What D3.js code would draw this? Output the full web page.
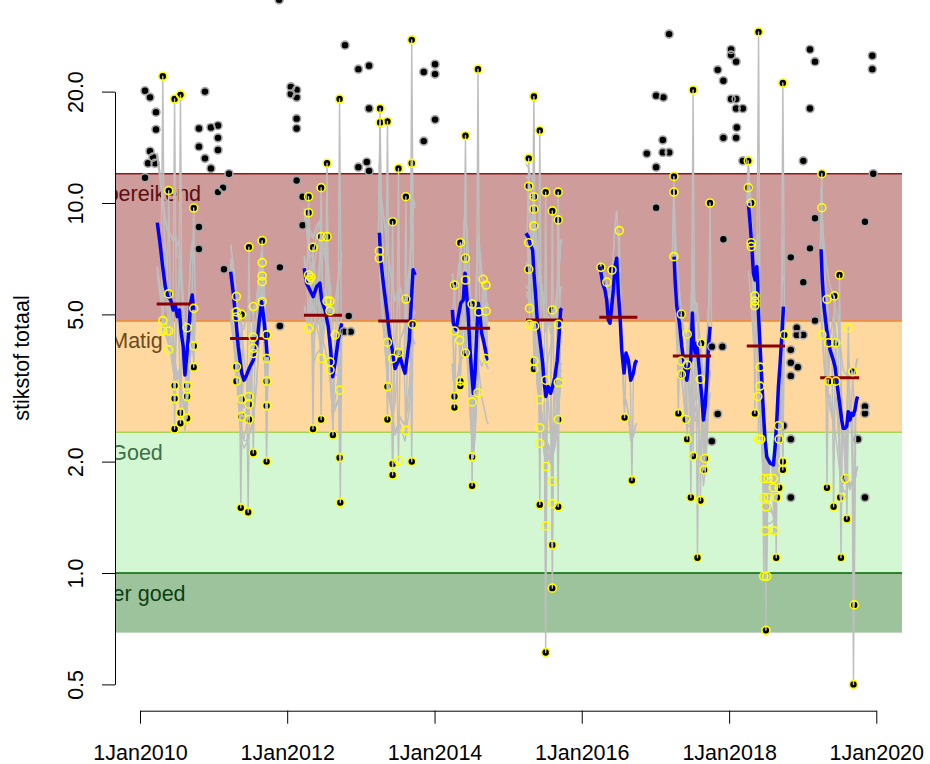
<!DOCTYPE html>
<html>
<head>
<meta charset="utf-8">
<script src="https://cdn.jsdelivr.net/npm/d3@7"></script>
<style>
  body { margin: 0; background: #fff; }
  svg { display: block; font-family: "Liberation Sans", Arial, Helvetica, sans-serif; }
</style>
</head>
<body>
<svg id="chart" width="930" height="764"></svg>
<script>
// ---- Quality classes (total nitrogen, mg/l) ----
const classNames = ["Zeer goed", "Goed", "Matig", "Ontoereikend"];
const classLower = [0.69, 1.0, 2.4, 4.8];
const classUpper = [1.0, 2.4, 4.8, 12];
const classFill  = ["#9dc39d", "#d3f7d3", "#ffd89f", "#cf9c9c"];
const classEdge  = ["#006400", "#a8d45a", "#f0882a", "#8b1a1a"];
const classText  = ["#0c3f12", "#3f6f47", "#6b4a1b", "#5b0f0f"];
const classLabelAt = 2009.953;

// ---- Axis ticks ----
const yTicks = [0.5, 1, 2, 5, 10, 20];
const xTickYears = [2010, 2012, 2014, 2016, 2018, 2020];

// ---- Summer means per year: start, end, mean ----
const meanStart = [2010.227, 2011.224, 2012.227, 2013.235, 2014.301, 2015.243, 2016.238, 2017.235, 2018.240, 2019.237];
const meanEnd   = [2010.724, 2011.700, 2012.743, 2013.733, 2014.754, 2015.744, 2016.754, 2017.755, 2018.760, 2019.767];
const meanValue = [5.33, 4.30, 4.97, 4.80, 4.59, 4.83, 4.91, 3.86, 4.11, 3.37];

// ---- Running median per summer [decimal year, value] ----
const blue2010 = [[2010.235,8.85],[2010.272,7.78],[2010.308,6.73],[2010.344,5.94],[2010.380,5.58],[2010.417,5.47],[2010.452,5.14],[2010.479,5.30],[2010.507,4.93],[2010.534,5.14],[2010.561,4.44],[2010.588,4.09],[2010.611,3.43],[2010.634,3.84],[2010.661,4.44],[2010.688,5.36],[2010.710,5.64],[2010.729,5.14]];
const blue2011 = [[2011.232,6.52],[2011.268,5.70],[2011.304,4.83],[2011.335,4.09],[2011.382,3.47],[2011.413,3.32],[2011.450,3.43],[2011.494,3.61],[2011.539,3.76],[2011.585,4.09],[2011.621,4.83],[2011.653,5.41],[2011.684,4.83],[2011.712,4.26],[2011.729,3.84]];
const blue2012 = [[2012.231,6.66],[2012.263,6.07],[2012.308,5.82],[2012.353,5.58],[2012.399,5.94],[2012.444,6.07],[2012.467,5.47],[2012.512,5.14],[2012.557,4.63],[2012.589,4.01],[2012.617,3.39],[2012.648,3.69],[2012.692,4.26],[2012.739,4.73]];
const blue2013 = [[2013.250,8.31],[2013.269,7.01],[2013.304,6.07],[2013.350,5.14],[2013.386,4.44],[2013.426,4.01],[2013.463,3.57],[2013.494,3.69],[2013.531,3.84],[2013.568,3.61],[2013.599,3.47],[2013.622,3.76],[2013.657,4.26],[2013.690,5.70],[2013.708,6.60],[2013.735,6.39]];
const blue2014 = [[2014.242,5.14],[2014.255,4.73],[2014.292,4.54],[2014.323,4.93],[2014.356,5.36],[2014.391,5.47],[2014.414,6.46],[2014.436,5.70],[2014.459,4.93],[2014.482,4.01],[2014.505,3.47],[2014.527,3.06],[2014.550,3.47],[2014.573,4.44],[2014.595,5.36],[2014.618,4.93],[2014.641,4.44],[2014.672,4.18],[2014.709,3.84],[2014.730,3.76]];
const blue2015 = [[2015.242,8.28],[2015.273,8.11],[2015.296,7.78],[2015.333,7.46],[2015.350,6.46],[2015.378,5.47],[2015.395,4.83],[2015.432,4.26],[2015.469,3.69],[2015.486,3.32],[2015.513,3.00],[2015.545,3.19],[2015.577,3.06],[2015.604,3.19],[2015.636,3.39],[2015.667,3.76],[2015.694,4.44],[2015.713,5.14],[2015.731,5.19]];
const blue2016 = [[2016.247,6.73],[2016.284,6.07],[2016.315,5.82],[2016.338,5.47],[2016.360,4.83],[2016.383,4.73],[2016.406,5.25],[2016.428,5.82],[2016.451,6.73],[2016.474,7.09],[2016.496,5.70],[2016.519,4.93],[2016.542,4.01],[2016.573,3.47],[2016.600,3.93],[2016.632,3.76],[2016.664,3.32],[2016.700,3.47],[2016.723,3.69],[2016.746,3.76]];
const blue2017 = [[2017.253,7.16],[2017.266,6.19],[2017.289,5.25],[2017.325,4.73],[2017.357,4.09],[2017.388,3.69],[2017.425,3.32],[2017.447,3.54],[2017.479,3.76],[2017.501,5.04],[2017.515,4.26],[2017.538,3.93],[2017.561,4.18],[2017.583,3.76],[2017.606,3.32],[2017.629,3.00],[2017.651,2.59],[2017.674,2.82],[2017.697,3.32],[2017.719,4.09],[2017.742,4.63]];
const blue2018 = [[2018.262,9.98],[2018.285,8.81],[2018.308,7.62],[2018.330,6.46],[2018.353,6.19],[2018.376,6.73],[2018.390,5.94],[2018.398,5.04],[2018.421,4.09],[2018.444,3.32],[2018.466,2.70],[2018.489,2.29],[2018.512,2.06],[2018.557,1.98],[2018.602,1.96],[2018.625,2.19],[2018.648,2.59],[2018.670,3.19],[2018.693,3.69],[2018.716,4.35],[2018.738,5.25]];
const blue2019 = [[2019.249,7.50],[2019.266,6.19],[2019.289,5.25],[2019.326,4.54],[2019.371,4.01],[2019.416,3.76],[2019.439,3.61],[2019.462,3.32],[2019.483,3.06],[2019.507,2.82],[2019.530,2.59],[2019.551,2.46],[2019.574,2.46],[2019.598,2.49],[2019.619,2.73],[2019.642,2.59],[2019.665,2.70],[2019.687,2.67],[2019.710,2.76],[2019.733,2.94],[2019.746,3.00]];

// ---- Summer measurements [decimal year, value, filled] ----
const obs2010 = [[2010.31,22.0,1],[2010.47,19.1,1],[2010.55,19.6,1],[2010.39,10.8,1],[2010.73,9.69,1],[2010.39,5.68,1],[2010.31,4.81,0],[2010.31,4.51,0],[2010.39,4.51,0],[2010.39,4.01,0],[2010.73,5.19,0],[2010.64,4.60,0],[2010.73,4.11,1],[2010.73,3.60,1],[2010.47,3.21,1],[2010.64,3.21,1],[2010.47,2.96,1],[2010.64,3.00,1],[2010.55,2.71,1],[2010.64,2.62,1],[2010.55,2.54,1],[2010.47,2.45,1]];
const obs2011 = [[2011.31,5.59,0],[2011.31,5.08,0],[2011.31,4.92,0],[2011.38,5.00,1],[2011.54,5.25,0],[2011.66,7.91,1],[2011.66,6.90,0],[2011.66,6.35,0],[2011.66,6.13,0],[2011.66,5.41,0],[2011.48,7.60,1],[2011.54,4.34,0],[2011.54,4.05,0],[2011.54,3.92,0],[2011.72,4.40,1],[2011.72,3.80,1],[2011.72,3.30,1],[2011.72,2.83,1],[2011.31,3.61,1],[2011.31,3.30,1],[2011.38,2.95,1],[2011.48,3.00,1],[2011.48,2.86,1],[2011.38,2.65,1],[2011.48,2.60,1],[2011.54,2.11,1],[2011.72,2.00,1],[2011.37,1.50,1],[2011.47,1.46,1]];
const obs2012 = [[2012.29,10.4,1],[2012.29,9.41,1],[2012.46,11.0,1],[2012.54,12.8,1],[2012.35,7.59,1],[2012.46,8.11,1],[2012.54,8.11,1],[2012.71,19.1,1],[2012.29,6.39,0],[2012.30,6.19,0],[2012.32,6.30,0],[2012.29,4.58,0],[2012.54,5.43,0],[2012.58,5.43,0],[2012.58,5.11,0],[2012.65,4.40,0],[2012.46,3.80,0],[2012.58,3.72,0],[2012.58,3.54,0],[2012.71,3.12,0],[2012.71,2.05,1],[2012.46,2.60,1],[2012.35,2.45,1],[2012.62,2.36,1],[2012.72,1.55,1]];
const obs2013 = [[2013.26,18.0,1],[2013.26,16.5,1],[2013.36,16.6,1],[2013.69,27.6,1],[2013.51,12.4,1],[2013.69,12.8,1],[2013.61,10.4,1],[2013.43,8.90,1],[2013.25,7.42,0],[2013.25,7.09,0],[2013.61,5.50,1],[2013.70,4.70,1],[2013.36,4.20,0],[2013.43,3.80,0],[2013.51,3.94,1],[2013.36,3.19,1],[2013.36,2.60,1],[2013.61,2.43,0],[2013.43,1.97,1],[2013.51,2.01,0],[2013.43,1.84,1],[2013.69,2.00,1]];
const obs2014 = [[2014.42,15.2,1],[2014.59,23.0,1],[2014.35,7.81,1],[2014.42,7.09,1],[2014.27,6.00,1],[2014.42,6.19,0],[2014.66,6.22,0],[2014.70,6.00,0],[2014.51,5.33,1],[2014.60,5.08,0],[2014.70,5.10,0],[2014.27,4.51,0],[2014.34,4.26,0],[2014.42,3.93,1],[2014.69,3.80,0],[2014.35,3.30,1],[2014.35,3.20,1],[2014.27,3.00,1],[2014.27,2.80,1],[2014.51,2.90,1],[2014.59,3.07,0],[2014.51,2.06,1],[2014.51,1.72,1]];
const obs2015 = [[2015.35,19.4,1],[2015.43,15.7,1],[2015.28,13.2,1],[2015.28,11.1,1],[2015.35,10.4,1],[2015.51,10.7,1],[2015.68,10.7,1],[2015.35,9.62,1],[2015.60,9.52,1],[2015.68,9.00,1],[2015.35,8.67,1],[2015.28,7.81,0],[2015.28,6.62,1],[2015.29,5.19,0],[2015.60,5.14,1],[2015.29,4.70,0],[2015.36,4.65,0],[2015.68,4.70,0],[2015.35,3.74,1],[2015.35,3.56,1],[2015.51,3.32,0],[2015.68,3.27,1],[2015.43,2.94,0],[2015.68,2.60,1],[2015.43,2.47,0],[2015.43,2.24,0],[2015.51,1.94,0],[2015.60,1.77,0],[2015.43,1.53,1],[2015.60,1.54,0],[2015.68,1.51,1],[2015.51,1.34,0],[2015.60,1.19,1],[2015.60,0.91,1],[2015.51,0.61,1]];
const obs2016 = [[2016.51,8.42,0],[2016.26,6.70,1],[2016.41,6.59,1],[2016.34,6.11,0],[2016.58,2.63,1],[2016.68,1.78,1]];
const obs2017 = [[2017.25,11.8,1],[2017.25,10.7,1],[2017.51,20.2,1],[2017.74,10.0,1],[2017.25,7.16,0],[2017.35,5.01,1],[2017.43,4.42,0],[2017.62,4.18,1],[2017.35,3.74,0],[2017.43,3.65,1],[2017.35,3.44,1],[2017.61,3.34,0],[2017.31,2.70,1],[2017.41,2.60,1],[2017.43,2.30,1],[2017.51,2.07,1],[2017.67,2.04,1],[2017.66,1.90,1],[2017.48,1.60,1],[2017.61,1.57,1],[2017.57,1.10,1]];
const obs2018 = [[2018.40,29.0,1],[2018.73,21.1,1],[2018.26,13.0,1],[2018.26,11.0,1],[2018.30,10.0,1],[2018.30,7.81,1],[2018.30,7.62,0],[2018.35,5.61,0],[2018.35,5.43,0],[2018.35,5.28,0],[2018.75,4.40,1],[2018.42,3.60,0],[2018.42,3.20,0],[2018.39,3.00,0],[2018.35,2.70,1],[2018.67,2.50,1],[2018.40,2.30,0],[2018.43,2.30,0],[2018.68,2.30,1],[2018.73,2.00,1],[2018.73,1.90,1],[2018.47,1.80,0],[2018.53,1.80,0],[2018.60,1.80,0],[2018.60,1.70,0],[2018.68,1.70,1],[2018.47,1.60,0],[2018.53,1.60,0],[2018.65,1.60,1],[2018.50,1.51,1],[2018.49,1.30,0],[2018.61,1.30,0],[2018.64,1.10,1],[2018.47,0.98,0],[2018.51,0.98,0],[2018.50,0.70,1]];
const obs2019 = [[2019.26,12.0,1],[2019.26,9.71,0],[2019.50,6.39,1],[2019.33,5.49,0],[2019.43,5.61,1],[2019.62,4.60,0],[2019.26,4.40,0],[2019.35,4.19,1],[2019.45,4.19,1],[2019.68,3.50,1],[2019.35,3.30,1],[2019.45,3.30,1],[2019.33,1.70,1],[2019.51,1.60,1],[2019.58,1.80,1],[2019.42,1.51,1],[2019.60,1.40,1],[2019.52,1.10,1],[2019.70,0.82,1],[2019.69,0.50,1]];

// ---- Measurements outside the summer window [decimal year, value] ----
const winterObs = [
  [2010.068,20.1],[2010.136,19.3],[2010.217,17.6],[2010.217,15.8],[2010.136,13.8],[2010.109,12.8],[2010.204,12.8],[2010.177,13.3],[2010.068,11.7],
  [2010.883,20.0],[2010.801,15.9],[2010.964,16.0],[2011.060,16.2],[2011.060,15.0],[2010.801,14.2],[2011.060,13.9],[2010.883,13.2],[2010.964,12.4],[2011.209,12.0],[2011.060,10.7],[2011.128,11.0],[2010.801,8.61],[2010.801,7.51],
  [2011.141,6.62],[2011.901,6.70],[2011.901,4.65],[2011.891,35.4],
  [2012.050,20.6],[2012.128,20.2],[2012.050,19.7],[2012.128,19.3],[2012.128,16.9],[2012.128,15.9],[2012.128,11.5],[2012.209,10.4],[2012.209,8.71],
  [2012.784,26.7],[2012.965,23.0],[2013.110,23.5],[2013.110,18.0],[2012.965,12.5],[2013.079,12.9],[2013.110,12.2],[2012.834,4.95],[2012.770,4.49],[2012.861,4.49],
  [2013.853,22.6],[2014.007,23.7],[2014.007,22.3],[2014.007,16.8],[2013.853,14.7],
  [2017.185,28.6],[2017.008,19.5],[2017.107,19.3],[2017.099,14.8],[2016.882,13.6],[2017.099,13.7],[2017.185,13.7],[2017.008,12.5],[2017.008,9.71],
  [2017.922,7.98],[2017.765,4.09],[2017.908,4.09],[2017.845,2.69],[2017.765,2.27],
  [2017.845,22.9],[2018.027,26.0],[2018.027,25.1],[2018.095,24.1],[2017.922,21.4],[2018.027,19.1],[2018.095,19.1],[2018.095,18.0],[2018.186,18.0],[2018.104,16.0],[2017.922,15.0],[2018.095,15.0],[2018.186,13.0],
  [2019.099,26.0],[2019.167,24.1],[2019.099,18.0],[2019.008,13.0],[2019.167,9.09],[2019.099,7.54],[2018.838,7.13],[2019.008,6.11],[2019.167,4.81],[2018.919,4.60],[2018.919,4.40],[2019.008,4.40],[2018.838,4.01],[2018.838,3.70],[2018.933,3.60],[2018.838,3.41],[2018.838,2.30],[2018.838,1.60],[2018.738,2.50],
  [2019.946,25.0],[2019.946,23.0],[2019.959,12.0],[2019.846,8.90],[2019.846,2.82],[2019.846,2.70],[2019.750,2.30],[2019.846,1.60]
];

const medians = [blue2010, blue2011, blue2012, blue2013, blue2014, blue2015, blue2016, blue2017, blue2018, blue2019];
const summers = [obs2010, obs2011, obs2012, obs2013, obs2014, obs2015, obs2016, obs2017, obs2018, obs2019];

// ---- helpers ----
function toDate(t) {
  const yr = Math.floor(t);
  const a = new Date(yr, 0, 1), b = new Date(yr + 1, 0, 1);
  return new Date(+a + (t - yr) * (b - a));
}
// log-linear interpolation along a [t, v] series, held flat beyond its ends
function interpLog(series, t) {
  if (t <= series[0][0]) return series[0][1];
  const last = series[series.length - 1];
  if (t >= last[0]) return last[1];
  const i = d3.bisector(d => d[0]).right(series, t);
  const a = series[i - 1], b = series[i];
  const f = (t - a[0]) / (b[0] - a[0]);
  return Math.exp(Math.log(a[1]) + f * (Math.log(b[1]) - Math.log(a[1])));
}
function interpLin(pairs, t) {
  if (t <= pairs[0][0]) return pairs[0][1];
  const last = pairs[pairs.length - 1];
  if (t >= last[0]) return last[1];
  const i = d3.bisector(d => d[0]).right(pairs, t);
  const a = pairs[i - 1], b = pairs[i];
  return a[1] + (t - a[0]) / (b[0] - a[0]) * (b[1] - a[1]);
}

const svg = d3.select("#chart");
const plotLeft = 115, plotRight = 902;

const x = d3.scaleTime()
  .domain([new Date(2010, 0, 1), new Date(2020, 0, 1)])
  .range([140, 876.3]);
const y = d3.scaleLog()
  .domain([0.5, 20])
  .range([684.4, 91.6]);

svg.append("defs").append("clipPath").attr("id", "plotClip")
  .append("rect").attr("x", plotLeft).attr("y", 0)
  .attr("width", plotRight - plotLeft).attr("height", 700);

const plot = svg.append("g").attr("clip-path", "url(#plotClip)");

// class bands
classNames.forEach((name, i) => {
  plot.append("rect")
    .attr("x", plotLeft).attr("width", plotRight - plotLeft)
    .attr("y", y(classUpper[i]))
    .attr("height", y(classLower[i]) - y(classUpper[i]))
    .attr("fill", classFill[i]);
});
classNames.forEach((name, i) => {
  plot.append("line")
    .attr("x1", plotLeft).attr("x2", plotRight)
    .attr("y1", y(classUpper[i])).attr("y2", y(classUpper[i]))
    .attr("stroke", classEdge[i]).attr("stroke-width", 1.5);
  plot.append("text")
    .attr("x", x(toDate(classLabelAt)))
    .attr("y", y(classUpper[i]) + 27.5)
    .attr("text-anchor", "middle")
    .attr("font-size", "21.5px")
    .attr("fill", classText[i])
    .text(name);
});

// black centres of all points (drawn beneath the lines)
const allSummer = summers.flat();
plot.append("g").selectAll("circle")
  .data(allSummer.filter(d => d[2] === 1).concat(winterObs))
  .join("circle")
  .attr("cx", d => x(toDate(d[0])))
  .attr("cy", d => y(d[1]))
  .attr("r", 4)
  .attr("fill", "#000");

// grey station traces
function samplingRounds(obs) {
  const s = obs.slice().sort((a, b) => a[0] - b[0]);
  const rounds = [];
  s.forEach(d => {
    const last = rounds[rounds.length - 1];
    if (last && d[0] - last.t <= 0.015) { last.pts.push(d); last.t = d[0]; }
    else rounds.push({ t: d[0], pts: [d] });
  });
  return rounds;
}
const traceLine = d3.line().x(d => x(toDate(d[0]))).y(d => y(d[1]));
const grey = plot.append("g").attr("fill", "none").attr("stroke", "#bebebe")
  .attr("stroke-width", 1.4).attr("stroke-linejoin", "round");
const spread = Math.log(1.55);
summers.forEach((obs, s) => {
  const med = medians[s];
  const rounds = samplingRounds(obs);
  const n = d3.max(rounds, r => r.pts.length);
  // each ranked station follows the median, offset by its (softened) deviation at the sampling rounds
  for (let k = 0; k < n; k++) {
    ["hi", "lo"].forEach(dir => {
      const dev = rounds.filter(r => r.pts.length > k).map(r => {
        const sorted = r.pts.slice().sort((a, b) => dir === "hi" ? b[1] - a[1] : a[1] - b[1]);
        const p = sorted[k];
        const l = Math.log(p[1] / interpLog(med, p[0]));
        return [p[0], spread * Math.tanh(l / spread)];
      });
      const tr = med.map(m => [m[0], m[1] * Math.exp(interpLin(dev, m[0]))]);
      grey.append("path").attr("d", traceLine(tr));
    });
  }
  // excursions from the median out to every measurement
  const w = 0.022;
  obs.forEach(p => {
    const path = [[p[0] - w, interpLog(med, p[0] - w)], [p[0], p[1]], [p[0] + w, interpLog(med, p[0] + w)]];
    grey.append("path").attr("d", traceLine(path));
  });
});

// running medians
const medLine = d3.line().x(d => x(toDate(d[0]))).y(d => y(d[1]));
plot.append("g").selectAll("path").data(medians).join("path")
  .attr("d", medLine)
  .attr("fill", "none").attr("stroke", "#0000ff")
  .attr("stroke-width", 3.5).attr("stroke-linejoin", "round");

// summer means
plot.append("g").selectAll("line").data(meanValue).join("line")
  .attr("x1", (d, i) => x(toDate(meanStart[i])))
  .attr("x2", (d, i) => x(toDate(meanEnd[i])))
  .attr("y1", d => y(d)).attr("y2", d => y(d))
  .attr("stroke", "#8b0000").attr("stroke-width", 3);

// rings
plot.append("g").selectAll("circle").data(winterObs).join("circle")
  .attr("cx", d => x(toDate(d[0]))).attr("cy", d => y(d[1]))
  .attr("r", 4).attr("fill", "none")
  .attr("stroke", "#a8a8a8").attr("stroke-width", 1.6);
plot.append("g").selectAll("circle").data(allSummer).join("circle")
  .attr("cx", d => x(toDate(d[0]))).attr("cy", d => y(d[1]))
  .attr("r", 4).attr("fill", "none")
  .attr("stroke", "#ffff00").attr("stroke-width", 1.6);

// axes
const fontSize = "21.5px";
const xAxis = d3.axisBottom(x)
  .tickValues(xTickYears.map(yr => new Date(yr, 0, 1)))
  .tickFormat(d => "1Jan" + d.getFullYear())
  .tickSize(13).tickSizeOuter(0);
const gx = svg.append("g").attr("transform", "translate(0,710.7)").call(xAxis);
gx.select(".domain").attr("stroke", "#000");
gx.selectAll(".tick line").attr("stroke", "#000");
gx.selectAll(".tick text").attr("y", 49.3).attr("dy", null)
  .attr("font-size", fontSize).attr("font-family", "Liberation Sans, Arial, sans-serif").attr("fill", "#000");

const yAxis = d3.axisLeft(y)
  .tickValues(yTicks)
  .tickFormat(d3.format(".1f"))
  .tickSize(13).tickSizeOuter(0);
const gy = svg.append("g").attr("transform", `translate(${plotLeft},0)`).call(yAxis);
gy.select(".domain").attr("stroke", "#000");
gy.selectAll(".tick line").attr("stroke", "#000");
gy.selectAll(".tick text")
  .attr("x", null).attr("dy", null)
  .attr("transform", "translate(-32.3,0) rotate(-90)")
  .attr("text-anchor", "middle")
  .attr("font-size", fontSize).attr("font-family", "Liberation Sans, Arial, sans-serif").attr("fill", "#000");

svg.append("text")
  .attr("transform", "translate(29.3,358) rotate(-90)")
  .attr("text-anchor", "middle")
  .attr("font-size", fontSize)
  .attr("fill", "#000")
  .text("stikstof totaal");
</script>
</body>
</html>
